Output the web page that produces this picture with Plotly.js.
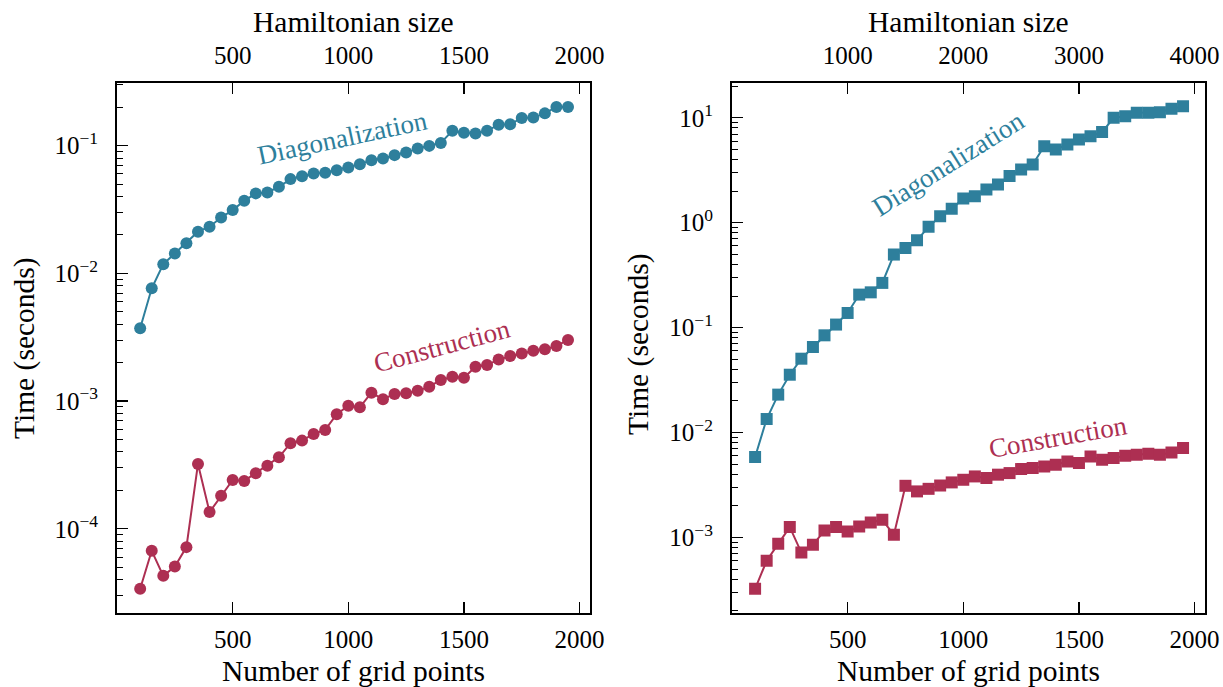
<!DOCTYPE html>
<html>
<head>
<meta charset="utf-8">
<script src="https://cdn.plot.ly/plotly-3.0.1.min.js"></script>
<style>
  html, body { margin: 0; padding: 0; background: #ffffff; }
  #chart { width: 1223px; height: 687px; }
</style>
</head>
<body>
<div id="chart"></div>
<script>
// Number of grid points used in each benchmark run
const gridPoints = [100, 150, 200, 250, 300, 350, 400, 450, 500, 550,
                    600, 650, 700, 750, 800, 850, 900, 950, 1000, 1050,
                    1100, 1150, 1200, 1250, 1300, 1350, 1400, 1450, 1500, 1550,
                    1600, 1650, 1700, 1750, 1800, 1850, 1900, 1950];

// Left panel: Hamiltonian size equals the number of grid points (seconds)
const diagLeft = [0.00372, 0.00764, 0.0118, 0.0143, 0.0172, 0.0212, 0.0232, 0.0274, 0.0313, 0.0370,
                  0.0423, 0.0430, 0.0476, 0.0547, 0.0577, 0.0606, 0.0613, 0.0643, 0.0675, 0.0716,
                  0.0770, 0.0794, 0.0843, 0.0885, 0.0951, 0.0996, 0.105, 0.1306, 0.126, 0.1245,
                  0.1306, 0.146, 0.147, 0.165, 0.166, 0.179, 0.201, 0.201];
const constrLeft = [3.39e-5, 6.72e-5, 4.28e-5, 5.06e-5, 7.18e-5, 3.22e-4, 1.35e-4, 1.81e-4, 2.41e-4, 2.37e-4,
                    2.72e-4, 3.12e-4, 3.63e-4, 4.68e-4, 4.90e-4, 5.53e-4, 5.94e-4, 7.88e-4, 9.2e-4, 8.94e-4,
                    1.164e-3, 1.033e-3, 1.137e-3, 1.151e-3, 1.206e-3, 1.296e-3, 1.463e-3, 1.552e-3, 1.524e-3, 1.858e-3,
                    1.915e-3, 2.12e-3, 2.25e-3, 2.36e-3, 2.48e-3, 2.54e-3, 2.70e-3, 3.01e-3];

// Right panel: Hamiltonian size is twice the number of grid points (seconds)
const diagRight = [5.85e-3, 0.01346, 0.0230, 0.0356, 0.0506, 0.0654, 0.0845, 0.107, 0.138, 0.2065,
                   0.217, 0.267, 0.497, 0.575, 0.681, 0.913, 1.152, 1.355, 1.70, 1.787,
                   2.07, 2.31, 2.78, 3.21, 3.59, 5.36, 4.99, 5.56, 6.21, 6.68,
                   7.30, 10.0, 10.35, 11.16, 11.16, 11.3, 12.2, 12.9];
const constrRight = [3.24e-4, 6.0e-4, 8.7e-4, 1.256e-3, 7.19e-4, 8.51e-4, 1.166e-3, 1.256e-3, 1.14e-3, 1.27e-3,
                     1.39e-3, 1.475e-3, 1.06e-3, 3.11e-3, 2.75e-3, 2.91e-3, 3.13e-3, 3.35e-3, 3.55e-3, 3.82e-3,
                     3.69e-3, 3.97e-3, 4.11e-3, 4.49e-3, 4.59e-3, 4.75e-3, 4.93e-3, 5.31e-3, 5.13e-3, 5.93e-3,
                     5.51e-3, 5.71e-3, 6.01e-3, 6.15e-3, 6.29e-3, 6.15e-3, 6.47e-3, 7.13e-3];

// Tick labels
const gridTicks = [500, 1000, 1500, 2000];
const hamTicksLeft = [500, 1000, 1500, 2000];
const hamTicksRight = [1000, 2000, 3000, 4000];
const timeTicksLeft = [1e-4, 1e-3, 1e-2, 1e-1];
const timeTextLeft = ['10<sup>−4</sup>', '10<sup>−3</sup>', '10<sup>−2</sup>', '10<sup>−1</sup>'];
const timeTicksRight = [1e-3, 1e-2, 1e-1, 1, 10];
const timeTextRight = ['10<sup>−3</sup>', '10<sup>−2</sup>', '10<sup>−1</sup>', '10<sup>0</sup>', '10<sup>1</sup>'];

const seriesNames = ['Diagonalization', 'Construction'];
const axisTitles = ['Hamiltonian size', 'Number of grid points', 'Time (seconds)'];
const TEAL = '#2e7f9c';
const CRIMSON = '#ad2f52';
const FONT = 'Liberation Serif, DejaVu Serif, serif';

// Minor log ticks (2..9 within each decade)
function minorTicks(lo, hi) {
  const out = [];
  for (let e = lo; e <= hi; e++) {
    for (let m = 2; m <= 9; m++) out.push(m * Math.pow(10, e));
  }
  return out;
}

function series(y, color, symbol, xa, ya, name) {
  return {
    x: gridPoints, y: y, xaxis: xa, yaxis: ya, name: name,
    type: 'scatter', mode: 'lines+markers',
    line: { color: color, width: 2 },
    marker: { color: color, symbol: symbol, size: 12 },
    showlegend: false, hoverinfo: 'x+y'
  };
}

const traces = [
  series(diagLeft, TEAL, 'circle', 'x', 'y', seriesNames[0]),
  series(constrLeft, CRIMSON, 'circle', 'x', 'y', seriesNames[1]),
  series(diagRight, TEAL, 'square', 'x3', 'y2', seriesNames[0]),
  series(constrRight, CRIMSON, 'square', 'x3', 'y2', seriesNames[1]),
  // empty traces that attach the top (Hamiltonian size) axes
  { x: [], y: [], xaxis: 'x2', yaxis: 'y', type: 'scatter', showlegend: false, hoverinfo: 'skip' },
  { x: [], y: [], xaxis: 'x4', yaxis: 'y2', type: 'scatter', showlegend: false, hoverinfo: 'skip' }
];

const tickFont = { family: FONT, size: 25, color: '#000' };
const baseX = {
  showgrid: false, zeroline: false, showline: true, linecolor: '#000', linewidth: 2,
  ticks: 'inside', ticklen: 11, tickwidth: 1.2, tickcolor: '#000',
  tickmode: 'array', tickfont: tickFont, automargin: false, fixedrange: true
};
const baseY = {
  type: 'log', showgrid: false, zeroline: false, showline: true, mirror: true,
  linecolor: '#000', linewidth: 2,
  ticks: 'inside', ticklen: 11, tickwidth: 1.2, tickcolor: '#000',
  tickmode: 'array', tickfont: tickFont, automargin: false, fixedrange: true,
  ticklabelstandoff: 12
};

function label(text, px, py, angle, size, color) {
  return {
    text: text, xref: 'paper', yref: 'paper', x: px / 1223, y: 1 - py / 687,
    xanchor: 'center', yanchor: 'middle', textangle: angle, showarrow: false,
    font: { size: size, family: FONT, color: color }
  };
}

const yDom = [0.1084, 0.8785];
const layout = {
  width: 1223, height: 687,
  margin: { l: 0, r: 0, t: 0, b: 0 },
  paper_bgcolor: '#fff', plot_bgcolor: '#fff',
  font: { family: FONT, color: '#000' },
  showlegend: false,
  xaxis: Object.assign({}, baseX, { domain: [0.0957, 0.4824], anchor: 'y', range: [0, 2045], tickvals: gridTicks, ticklabelstandoff: 3 }),
  xaxis2: Object.assign({}, baseX, { overlaying: 'x', side: 'top', anchor: 'y', range: [0, 2045], tickvals: hamTicksLeft, ticklabelstandoff: 7 }),
  yaxis: Object.assign({}, baseY, {
    domain: yDom, anchor: 'x', range: [-4.656, -0.513],
    tickvals: timeTicksLeft, ticktext: timeTextLeft,
    minor: { tickmode: 'array', tickvals: minorTicks(-5, -1), ticks: 'inside', ticklen: 6, tickwidth: 1, tickcolor: '#000' }
  }),
  xaxis3: Object.assign({}, baseX, { domain: [0.5985, 0.9853], anchor: 'y2', range: [0, 2045], tickvals: gridTicks, ticklabelstandoff: 3 }),
  xaxis4: Object.assign({}, baseX, { overlaying: 'x3', side: 'top', anchor: 'y2', range: [0, 4090], tickvals: hamTicksRight, ticklabelstandoff: 7 }),
  yaxis2: Object.assign({}, baseY, {
    domain: yDom, anchor: 'x3', range: [-3.715, 1.327],
    tickvals: timeTicksRight, ticktext: timeTextRight,
    minor: { tickmode: 'array', tickvals: minorTicks(-4, 1), ticks: 'inside', ticklen: 6, tickwidth: 1, tickcolor: '#000' }
  }),
  annotations: [
    // axis titles
    label(axisTitles[0], 353, 22, 0, 29.5, '#000'),
    label(axisTitles[0], 968, 22, 0, 29.5, '#000'),
    label(axisTitles[1], 353, 671, 0, 29.5, '#000'),
    label(axisTitles[1], 968, 671, 0, 29.5, '#000'),
    label(axisTitles[2], 24, 348, -90, 29.5, '#000'),
    label(axisTitles[2], 638, 344, -90, 29.5, '#000'),
    // in-plot series labels
    label(seriesNames[0], 342, 138, -12, 27, TEAL),
    label(seriesNames[1], 442, 346, -15, 27, CRIMSON),
    label(seriesNames[0], 948, 164, -32, 27, TEAL),
    label(seriesNames[1], 1058, 437, -10, 27, CRIMSON)
  ]
};

Plotly.newPlot('chart', traces, layout, { displayModeBar: false, staticPlot: true });
</script>
</body>
</html>
